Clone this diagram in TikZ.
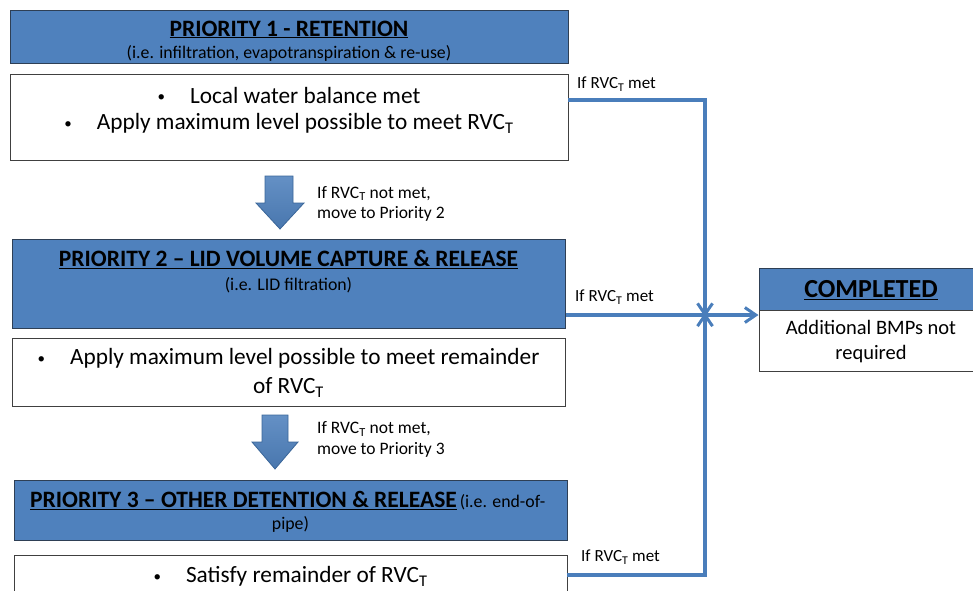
\documentclass[tikz,border=0pt]{standalone}
\usepackage{fontspec}
\setmainfont{Carlito}
\usetikzlibrary{arrows.meta}
\definecolor{hdrblue}{HTML}{4F81BD}
\definecolor{hdredge}{HTML}{2E3F55}
\definecolor{linkblue}{HTML}{4A7EBB}
\definecolor{arrowedge}{HTML}{3A6699}
\newcommand{\rvct}{RVC\textsubscript{T}}
\newcommand{\itembullet}{{\fontsize{15}{15}\selectfont\raisebox{1.5pt}{\textbullet}}\hspace{25pt}}
\tikzset{
  hdrbox/.style={draw=hdredge, line width=1pt, fill=hdrblue, inner sep=0pt},
  bodybox/.style={draw=black!75, line width=0.9pt, fill=white, inner sep=0pt},
  title/.style={font=\fontsize{23.5}{27}\selectfont\bfseries, inner sep=0pt},
  subtitle/.style={font=\fontsize{17.8}{21}\selectfont, inner sep=0pt},
  bodytext/.style={font=\fontsize{23.3}{29}\selectfont, align=center, inner sep=0pt},
  note/.style={font=\fontsize{17.5}{20.5}\selectfont, align=left, inner sep=0pt, anchor=north west},
  metlabel/.style={font=\fontsize{17}{20}\selectfont, inner sep=0pt, anchor=west},
  link/.style={draw=linkblue, line width=3.2pt},
  linkarrow/.style={link, -{Straight Barb[length=11pt, width=15pt, line width=3pt]}},
  blockarrow/.style={top color=hdrblue!88!white, bottom color=hdrblue!92!black,
    draw=arrowedge, line width=0.8pt, line join=miter}
}
\begin{document}
\begin{tikzpicture}[x=1pt, y=-1pt]
\useasboundingbox (0,0) rectangle (973,590);

% Priority 1
\node[hdrbox, minimum width=558pt, minimum height=53pt] (p1h) at (289,36.5) {};
\node[title] (p1t) at (289,29.5) {\underline{PRIORITY 1 - RETENTION}};
\node[subtitle] (p1s) at (289,53) {(i.e. infiltration, evapotranspiration \& re-use)};
\node[bodybox, minimum width=558pt, minimum height=86pt] (p1b) at (289,117) {};
\node[bodytext] (p1l1) at (289,95) {\itembullet Local water balance met};
\node[bodytext] (p1l2) at (289,123.5) {\itembullet Apply maximum level possible to meet \rvct};

% Step arrow 1
\draw[blockarrow] (265,176) -- (293,176) -- (293,203) -- (304,203) -- (280,229)
  -- (256,203) -- (265,203) -- cycle;
\node[note] (n1) at (317,186) {If \rvct{} not met,\\move to Priority 2};

% Priority 2
\node[hdrbox, minimum width=553pt, minimum height=89pt] (p2h) at (288.5,283.5) {};
\node[title] (p2t) at (288.5,259.5) {\underline{PRIORITY 2 -- LID VOLUME CAPTURE \& RELEASE}};
\node[subtitle] (p2s) at (288.5,285) {(i.e. LID filtration)};
\node[bodybox, minimum width=553pt, minimum height=68pt] (p2b) at (288.5,372) {};
\node[bodytext] (p2l) at (288.5,373) {\itembullet Apply maximum level possible to meet remainder\\of \rvct};

% Step arrow 2
\draw[blockarrow] (262,415) -- (288,415) -- (288,442) -- (298,442) -- (275,469)
  -- (252,442) -- (262,442) -- cycle;
\node[note] (n2) at (317,421.5) {If \rvct{} not met,\\move to Priority 3};

% Priority 3
\node[hdrbox, minimum width=553pt, minimum height=60pt] (p3h) at (290.5,510) {};
\node[title, anchor=west] (p3t) at (30,500.5) {\underline{PRIORITY 3 -- OTHER DETENTION \& RELEASE}\hspace{3pt}{\fontsize{17.8}{21}\mdseries\selectfont(i.e. end-of-}};
\node[subtitle] (p3s) at (290.5,524.5) {pipe)};
\node[bodybox, minimum width=553pt, minimum height=50pt] (p3b) at (290.5,580) {};
\node[bodytext] (p3l) at (290.5,576.5) {\itembullet Satisfy remainder of \rvct};

% Completed
\node[hdrbox, minimum width=216pt, minimum height=42pt] (ch) at (867,289) {};
\node[font=\fontsize{26}{30}\selectfont\bfseries, inner sep=0pt] (ct) at (871,290) {\underline{COMPLETED}};
\node[bodybox, minimum width=216pt, minimum height=61pt] (cb) at (867,340.5) {};
\node[font=\fontsize{20.5}{25}\selectfont, align=center, inner sep=0pt] (cbt) at (871,342) {Additional BMPs not\\required};

% Joins towards the completed box
\coordinate (j1) at (705,100);
\coordinate (jm) at (705,315);
\coordinate (j3) at (705,575);
\draw[linkarrow] (p1b.east |- j1) -- (j1) -- ([yshift=-2pt]jm);
\draw[linkarrow] (p3b.east |- j3) -- (j3) -- ([yshift=2.5pt]jm);
\draw[linkarrow] (p2h.east |- jm) -- (ch.west |- jm);

\node[metlabel] (m1) at (577,84) {If \rvct{} met};
\node[metlabel] (m2) at (575,297) {If \rvct{} met};
\node[metlabel] (m3) at (581,557) {If \rvct{} met};
\end{tikzpicture}
\end{document}
